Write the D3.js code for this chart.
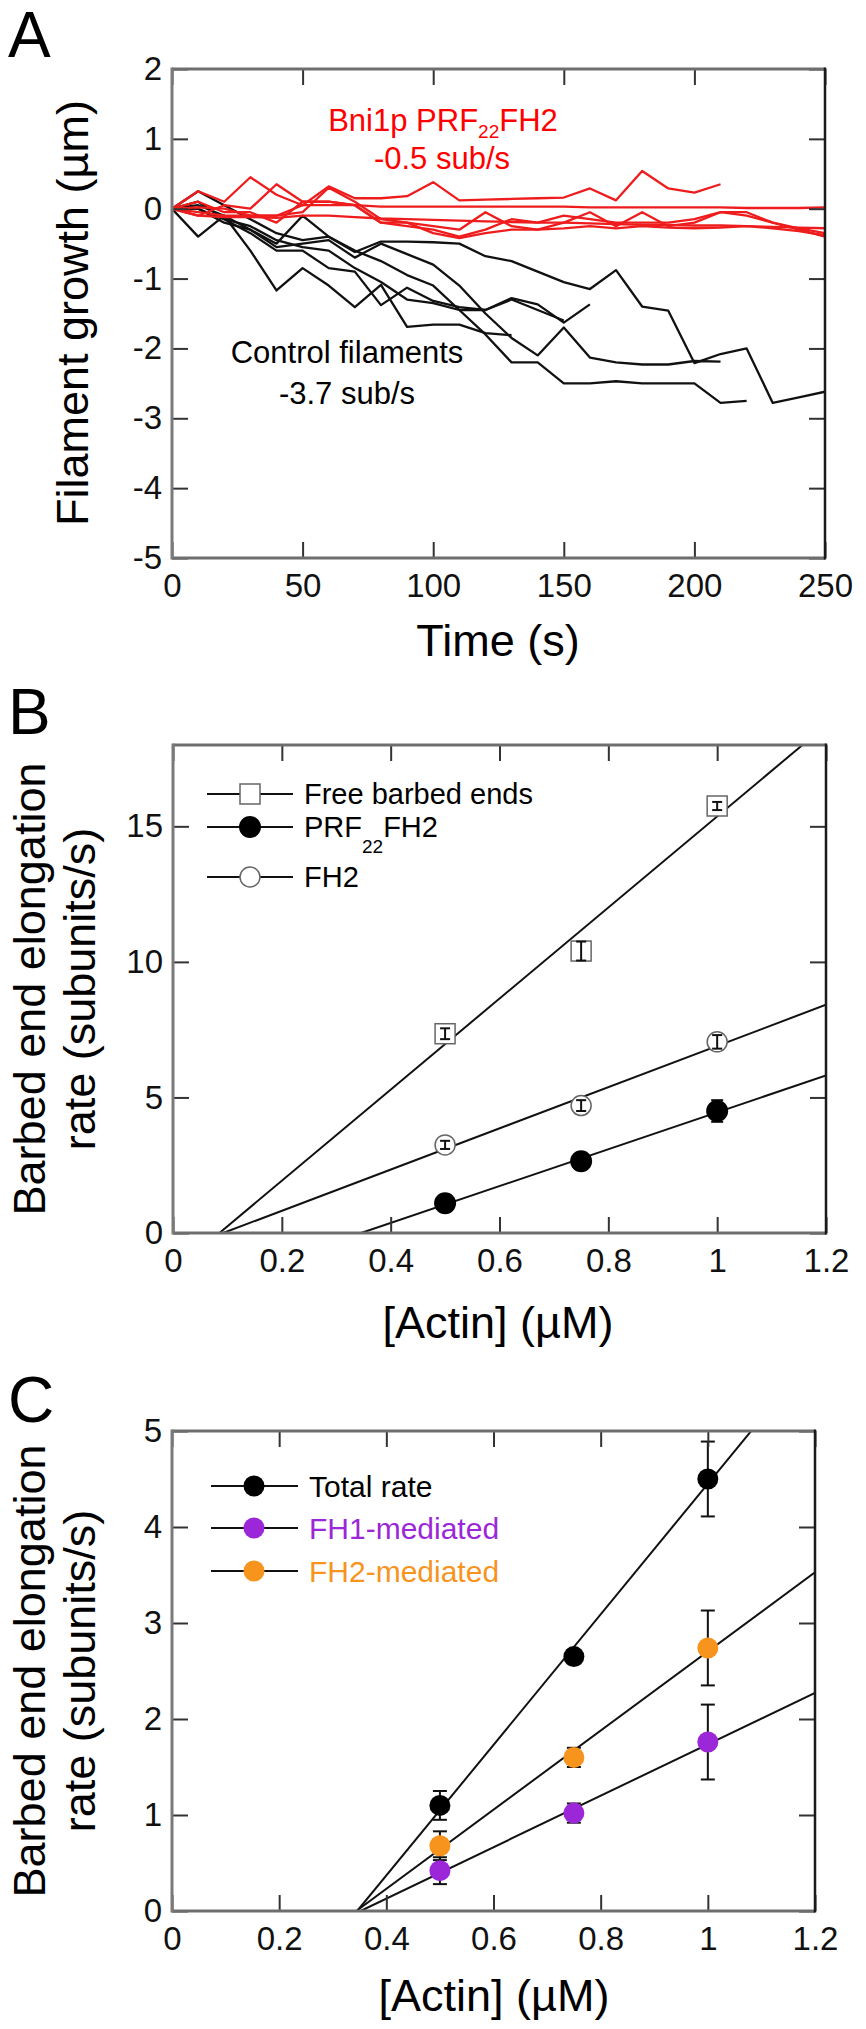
<!DOCTYPE html>
<html>
<head>
<meta charset="utf-8">
<script src="https://cdn.jsdelivr.net/npm/d3@7"></script>
<style>
  html, body { margin: 0; padding: 0; background: #fff; }
  svg { display: block; font-family: "Liberation Sans", Arial, sans-serif; }
</style>
</head>
<body>
<svg id="fig" width="866" height="2029"></svg>
<script>
// ---------- panel A : filament growth traces ----------
const timeS = [0, 10, 20, 30, 40, 50, 60, 70, 80, 90, 100, 110, 120, 130, 140, 150, 160, 170, 180, 190, 200, 210, 220, 230, 240, 250];

const controlTraces = [
  [0, 0.05, -0.1, -0.3, -0.5, -0.1, -0.4, -0.62, -0.47, -0.47, -0.48, -0.5, -0.68, -0.75, -0.9, -1.05, -1.15, -0.88, -1.4, -1.46, -2.21, -2.08, -2.0, -2.78, -2.7, -2.62],
  [0, 0.25, 0.05, -0.15, -0.35, -0.45, -0.4, -0.6, -0.75, -0.95, -1.1, -1.45, -1.8, -2.2, -2.2, -2.5, -2.5, -2.47, -2.5, -2.5, -2.5, -2.78, -2.75],
  [0, 0, -0.2, -0.3, -0.55, -0.5, -0.45, -0.7, -0.5, -0.65, -0.8, -1.1, -1.5, -1.85, -2.1, -1.7, -2.13, -2.2, -2.23, -2.23, -2.18, -2.19],
  [0, 0.1, -0.15, -0.35, -0.6, -0.6, -0.85, -0.9, -1.38, -1.13, -1.32, -1.41, -1.45, -1.28, -1.37, -1.63, -1.37],
  [0, -0.4, -0.1, -0.6, -1.17, -0.85, -1.1, -1.41, -1.09, -1.69, -1.66, -1.66, -1.78, -1.81],
  [0, 0, -0.15, -0.25, -0.45, -0.55, -0.6, -0.85, -1.05, -1.3, -1.35, -1.45, -1.45, -1.3, -1.45, -1.6]
];

const bni1pTraces = [
  [0, 0.25, 0.1, 0.45, 0.2, 0.05, 0.32, 0.15, 0.15, 0.18, 0.38, 0.12, 0.13, 0.14, 0.15, 0.16, 0.29, 0.12, 0.54, 0.29, 0.23, 0.35],
  [0, 0.02, 0.0, -0.1, -0.1, 0.05, 0.05, 0.05, 0.03, 0.03, 0.03, 0.03, 0.03, 0.03, 0.03, 0.03, 0.02, 0.02, 0.02, 0.02, 0.02, 0.02, 0.01, 0.01, 0.01, 0.02],
  [0, -0.1, 0.05, 0.0, 0.35, 0.1, 0.1, 0.05, -0.2, -0.25, -0.3, -0.4, -0.3, -0.15, -0.2, -0.1, -0.15, -0.2, -0.2, -0.2, -0.15, -0.05, -0.1, -0.2, -0.28, -0.35],
  [0, -0.05, -0.1, -0.1, -0.1, -0.05, 0.3, 0.1, -0.15, -0.2, -0.25, -0.3, -0.05, -0.25, -0.3, -0.2, -0.05, -0.25, -0.05, -0.25, -0.2, -0.05, -0.05, -0.2, -0.3, -0.4],
  [0, 0.1, -0.05, -0.05, -0.2, 0.1, 0.1, 0.05, -0.2, -0.2, -0.35, -0.42, -0.35, -0.3, -0.3, -0.28, -0.25, -0.28, -0.25, -0.27, -0.28, -0.27, -0.25, -0.28, -0.32, -0.38],
  [0, -0.1, -0.12, -0.12, -0.13, -0.1, -0.1, -0.12, -0.14, -0.15, -0.16, -0.17, -0.18, -0.19, -0.2, -0.2, -0.21, -0.22, -0.23, -0.23, -0.24, -0.24, -0.25, -0.26, -0.27, -0.28]
];

const xTicksA = [0, 50, 100, 150, 200, 250];
const yTicksA = [-5, -4, -3, -2, -1, 0, 1, 2];

// ---------- panel B : elongation rate vs actin ----------
const actinB = [0.5, 0.75, 1.0];
const freeEnds = [7.35, 10.4, 15.75];
const freeEndsErr = [0.2, 0.35, 0.15];
const prf22fh2 = [1.1, 2.65, 4.5];
const prf22fh2Err = [0.1, 0.1, 0.4];
const fh2 = [3.25, 4.7, 7.05];
const fh2Err = [0.15, 0.2, 0.25];

const xTicksBC = [0, 0.2, 0.4, 0.6, 0.8, 1, 1.2];
const yTicksB = [0, 5, 10, 15];

// ---------- panel C : FH1 / FH2 contributions ----------
const actinC = [0.5, 0.75, 1.0];
const totalRate = [1.1, 2.65, 4.5];
const totalRateErr = [0.15, 0.07, 0.39];
const fh1Mediated = [0.42, 1.02, 1.76];
const fh1MediatedErr = [0.14, 0.1, 0.39];
const fh2Mediated = [0.68, 1.6, 2.74];
const fh2MediatedErr = [0.15, 0.1, 0.39];
const yTicksC = [0, 1, 2, 3, 4, 5];

const purple = "#9b27d8";
const orange = "#f7941e";
const red = "#ee1c1c";

const svg = d3.select("#fig");
svg.append("rect").attr("width", 866).attr("height", 2029).attr("fill", "#fff");

const fmt = d => String(+d.toFixed(1));

function frame(g, x, y, xTicks, yTicks) {
  const [l, r] = x.range();
  const [b, t] = y.range();

  const bottom = g.append("g").attr("transform", `translate(0,${b})`)
    .call(d3.axisBottom(x).tickValues(xTicks).tickSize(-16).tickPadding(16).tickFormat(fmt));
  const top = g.append("g").attr("transform", `translate(0,${t})`)
    .call(d3.axisTop(x).tickValues(xTicks).tickSize(-16).tickFormat(""));
  const left = g.append("g").attr("transform", `translate(${l},0)`)
    .call(d3.axisLeft(y).tickValues(yTicks).tickSize(-16).tickPadding(10).tickFormat(fmt));
  const right = g.append("g").attr("transform", `translate(${r},0)`)
    .call(d3.axisRight(y).tickValues(yTicks).tickSize(-16).tickFormat(""));

  [bottom, top, left, right].forEach(a => {
    a.select(".domain").remove();
    a.attr("font-family", null).attr("font-size", null);
    a.selectAll(".tick line").attr("stroke", "#333").attr("stroke-width", 2);
    a.selectAll(".tick text").attr("font-size", 33).attr("fill", "#111");
  });

  g.append("line").attr("x1", l).attr("x2", r).attr("y1", t).attr("y2", t).attr("stroke", "#6e6e6e").attr("stroke-width", 3);
  g.append("line").attr("x1", l).attr("x2", r).attr("y1", b).attr("y2", b).attr("stroke", "#6e6e6e").attr("stroke-width", 3);
  g.append("line").attr("x1", l).attr("x2", l).attr("y1", t - 1.5).attr("y2", b + 1.5).attr("stroke", "#7a7a7a").attr("stroke-width", 3);
  g.append("line").attr("x1", r).attr("x2", r).attr("y1", t - 1.5).attr("y2", b + 1.5).attr("stroke", "#1a1a1a").attr("stroke-width", 2.5);
}

function fitLine(xs, ys) {
  const mx = d3.mean(xs), my = d3.mean(ys);
  const m = d3.sum(xs, (v, i) => (v - mx) * (ys[i] - my)) / d3.sum(xs, v => (v - mx) ** 2);
  return { m, b: my - m * mx };
}

function clipFor(id, x, y) {
  svg.append("clipPath").attr("id", id).append("rect")
    .attr("x", x.range()[0]).attr("y", y.range()[1])
    .attr("width", x.range()[1] - x.range()[0]).attr("height", y.range()[0] - y.range()[1]);
}

function drawFit(g, x, y, xs, ys, clip) {
  const f = fitLine(xs, ys);
  const x0 = -f.b / f.m, x1 = x.domain()[1];
  g.append("line").attr("clip-path", `url(#${clip})`)
    .attr("x1", x(x0)).attr("y1", y(0))
    .attr("x2", x(x1)).attr("y2", y(f.m * x1 + f.b))
    .attr("stroke", "#111").attr("stroke-width", 2);
}

function errBars(g, x, y, xs, ys, es, cap) {
  xs.forEach((v, i) => {
    const cx = x(v), y0 = y(ys[i] - es[i]), y1 = y(ys[i] + es[i]);
    g.append("line").attr("x1", cx).attr("x2", cx).attr("y1", y0).attr("y2", y1).attr("stroke", "#111").attr("stroke-width", 2);
    g.append("line").attr("x1", cx - cap).attr("x2", cx + cap).attr("y1", y0).attr("y2", y0).attr("stroke", "#111").attr("stroke-width", 2);
    g.append("line").attr("x1", cx - cap).attr("x2", cx + cap).attr("y1", y1).attr("y2", y1).attr("stroke", "#111").attr("stroke-width", 2);
  });
}

function panelLetter(txt, x, y) {
  svg.append("text").attr("x", x).attr("y", y).attr("font-size", 64).attr("fill", "#000").text(txt);
}

function yTitle(lines, x0, cy, gap) {
  lines.forEach((s, i) => {
    svg.append("text").attr("transform", `translate(${x0 + i * gap},${cy}) rotate(-90)`)
      .attr("text-anchor", "middle").attr("font-size", 45).attr("fill", "#000").text(s);
  });
}

// ================= Panel A =================
{
  const x = d3.scaleLinear().domain([0, 250]).range([172, 825]);
  const y = d3.scaleLinear().domain([-5, 2]).range([558, 69]);
  const g = svg.append("g");
  clipFor("clipA", x, y);

  const line = d3.line().x((d, i) => x(timeS[i])).y(d => y(d));
  g.append("g").attr("clip-path", "url(#clipA)").selectAll("path.ctrl").data(controlTraces).join("path")
    .attr("class", "ctrl").attr("d", line).attr("fill", "none").attr("stroke", "#111").attr("stroke-width", 2.3).attr("stroke-linejoin", "round");
  g.append("g").attr("clip-path", "url(#clipA)").selectAll("path.bni").data(bni1pTraces).join("path")
    .attr("class", "bni").attr("d", line).attr("fill", "none").attr("stroke", red).attr("stroke-width", 2.3).attr("stroke-linejoin", "round");

  frame(g, x, y, xTicksA, yTicksA);

  const t1 = g.append("text").attr("x", 443).attr("y", 131).attr("text-anchor", "middle").attr("font-size", 31).attr("fill", "#ff0000");
  t1.append("tspan").text("Bni1p PRF");
  t1.append("tspan").attr("font-size", 19).attr("dy", 7).text("22");
  t1.append("tspan").attr("dy", -7).text("FH2");
  g.append("text").attr("x", 442).attr("y", 169).attr("text-anchor", "middle").attr("font-size", 31).attr("fill", "#ff0000").text("-0.5 sub/s");

  g.append("text").attr("x", 347).attr("y", 363).attr("text-anchor", "middle").attr("font-size", 31).attr("fill", "#000").text("Control filaments");
  g.append("text").attr("x", 347).attr("y", 404).attr("text-anchor", "middle").attr("font-size", 31).attr("fill", "#000").text("-3.7 sub/s");

  g.append("text").attr("x", 498).attr("y", 656).attr("text-anchor", "middle").attr("font-size", 45).text("Time (s)");
  yTitle(["Filament growth (\u00b5m)"], 88, 313, 0);
  panelLetter("A", 8, 57);
}

// ================= Panel B =================
{
  const x = d3.scaleLinear().domain([0, 1.2]).range([173, 826]);
  const y = d3.scaleLinear().domain([0, 18]).range([1233, 745]);
  const g = svg.append("g");
  clipFor("clipB", x, y);

  drawFit(g, x, y, actinB, freeEnds, "clipB");
  drawFit(g, x, y, actinB, fh2, "clipB");
  drawFit(g, x, y, actinB, prf22fh2, "clipB");

  g.selectAll("rect.sq").data(actinB).join("rect").attr("class", "sq")
    .attr("x", d => x(d) - 10).attr("y", (d, i) => y(freeEnds[i]) - 10).attr("width", 20).attr("height", 20)
    .attr("fill", "#fff").attr("stroke", "#666").attr("stroke-width", 1.5);
  g.selectAll("circle.open").data(actinB).join("circle").attr("class", "open")
    .attr("cx", d => x(d)).attr("cy", (d, i) => y(fh2[i])).attr("r", 10)
    .attr("fill", "#fff").attr("stroke", "#666").attr("stroke-width", 1.5);
  errBars(g, x, y, actinB, prf22fh2, prf22fh2Err, 6);
  g.selectAll("circle.fill").data(actinB).join("circle").attr("class", "fill")
    .attr("cx", d => x(d)).attr("cy", (d, i) => y(prf22fh2[i])).attr("r", 11).attr("fill", "#000");
  errBars(g, x, y, actinB, freeEnds, freeEndsErr, 5);
  errBars(g, x, y, actinB, fh2, fh2Err, 5);

  frame(g, x, y, xTicksBC, yTicksB);

  // legend
  const rows = [794, 827, 877];
  rows.forEach(ry => g.append("line").attr("x1", 207).attr("x2", 293).attr("y1", ry).attr("y2", ry).attr("stroke", "#111").attr("stroke-width", 2));
  g.append("rect").attr("x", 240).attr("y", rows[0] - 10).attr("width", 20).attr("height", 20).attr("fill", "#fff").attr("stroke", "#666").attr("stroke-width", 1.5);
  g.append("circle").attr("cx", 250).attr("cy", rows[1]).attr("r", 11).attr("fill", "#000");
  g.append("circle").attr("cx", 250).attr("cy", rows[2]).attr("r", 10).attr("fill", "#fff").attr("stroke", "#666").attr("stroke-width", 1.5);
  g.append("text").attr("x", 304).attr("y", rows[0] + 10).attr("font-size", 29).text("Free barbed ends");
  const lt = g.append("text").attr("x", 304).attr("y", rows[1] + 10).attr("font-size", 29);
  lt.append("tspan").text("PRF");
  lt.append("tspan").attr("font-size", 19).attr("dy", 16).text("22");
  lt.append("tspan").attr("dy", -16).text("FH2");
  g.append("text").attr("x", 304).attr("y", rows[2] + 10).attr("font-size", 29).text("FH2");

  g.append("text").attr("x", 498).attr("y", 1338).attr("text-anchor", "middle").attr("font-size", 45).text("[Actin] (\u00b5M)");
  yTitle(["Barbed end elongation", "rate (subunits/s)"], 45, 989, 50);
  panelLetter("B", 8, 734);
}

// ================= Panel C =================
{
  const x = d3.scaleLinear().domain([0, 1.2]).range([172, 815]);
  const y = d3.scaleLinear().domain([0, 5]).range([1911, 1431]);
  const g = svg.append("g");
  clipFor("clipC", x, y);

  drawFit(g, x, y, actinC, totalRate, "clipC");
  drawFit(g, x, y, actinC, fh2Mediated, "clipC");
  drawFit(g, x, y, actinC, fh1Mediated, "clipC");

  const series = [
    { v: totalRate, e: totalRateErr, c: "#000" },
    { v: fh2Mediated, e: fh2MediatedErr, c: orange },
    { v: fh1Mediated, e: fh1MediatedErr, c: purple }
  ];
  series.forEach(s => errBars(g, x, y, actinC, s.v, s.e, 7));
  series.forEach(s => {
    g.append("g").selectAll("circle").data(actinC).join("circle")
      .attr("cx", d => x(d)).attr("cy", (d, i) => y(s.v[i])).attr("r", 10.5).attr("fill", s.c);
  });

  frame(g, x, y, xTicksBC, yTicksC);

  const rows = [1486, 1528, 1571];
  const legend = [["Total rate", "#000"], ["FH1-mediated", purple], ["FH2-mediated", orange]];
  legend.forEach(([name, c], i) => {
    g.append("line").attr("x1", 211).attr("x2", 298).attr("y1", rows[i]).attr("y2", rows[i]).attr("stroke", "#111").attr("stroke-width", 2);
    g.append("circle").attr("cx", 254).attr("cy", rows[i]).attr("r", 10.5).attr("fill", c);
    g.append("text").attr("x", 309).attr("y", rows[i] + 11).attr("font-size", 30).attr("fill", c).text(name);
  });

  g.append("text").attr("x", 494).attr("y", 2011).attr("text-anchor", "middle").attr("font-size", 45).text("[Actin] (\u00b5M)");
  yTitle(["Barbed end elongation", "rate (subunits/s)"], 45, 1671, 50);
  panelLetter("C", 8, 1422);
}
</script>
</body>
</html>
